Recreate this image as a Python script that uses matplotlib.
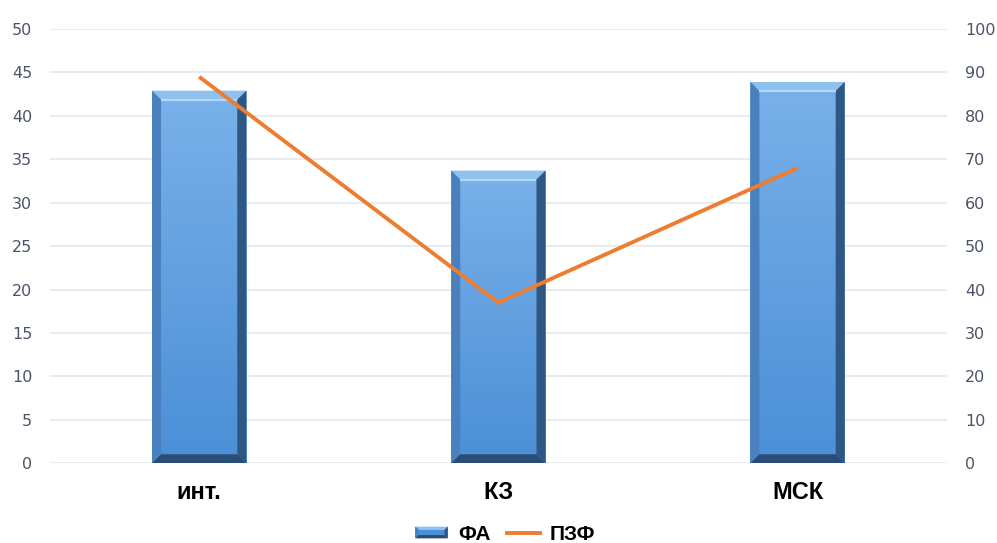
import numpy as np
import matplotlib
matplotlib.use("Agg")
import matplotlib.pyplot as plt
from matplotlib.patches import Polygon, Rectangle
from matplotlib.lines import Line2D
from matplotlib.legend_handler import HandlerBase
from matplotlib.colors import LinearSegmentedColormap

plt.rcParams['font.family'] = ['Liberation Sans', 'DejaVu Sans']

categories = ["инт.", "КЗ", "МСК"]
fa_values = [42.9, 33.7, 43.9]
pzf_values = [89, 37, 68]
left_ticks = [0, 5, 10, 15, 20, 25, 30, 35, 40, 45, 50]
right_ticks = [0, 10, 20, 30, 40, 50, 60, 70, 80, 90, 100]

FACE_TOP = "#7ab1e9"
FACE_BOT = "#4b8fd7"
BEVEL_TOP = "#8fc1f0"
HILITE = "#b0d8fc"
BEVEL_LEFT = "#4a80bd"
BEVEL_RIGHT = "#2f5784"
BEVEL_BOT = "#2a4d75"
LINE_COLOR = "#ed7d31"
TICK_COLOR = "#4a5468"
GRID_COLOR = "#e4e8ee"

face_cmap = LinearSegmentedColormap.from_list("face", [FACE_BOT, FACE_TOP])

fig = plt.figure(figsize=(9.97, 5.43), dpi=100)
ax = fig.add_axes([0.0497, 0.1468, 0.9003, 0.7998])
ax2 = ax.twinx()

x = np.arange(len(categories))
width = 0.315
ax.set_xlim(-0.5, len(categories) - 0.5)
ax.set_ylim(0, 50)
ax2.set_ylim(0, 100)

# bevel size expressed in pixels, converted to data units
fig.canvas.draw()
bbox = ax.get_window_extent()
bevel_px = 9
bx = bevel_px * (len(categories)) / bbox.width
by = bevel_px * 50 / bbox.height

bars = ax.bar(x, fa_values, width=width, color="none", edgecolor="none", zorder=2)
grad = np.linspace(0, 1, 256).reshape(-1, 1)
for rect in bars:
    x0 = rect.get_x()
    w = rect.get_width()
    h = rect.get_height()
    x1 = x0 + w
    im = ax.imshow(grad, cmap=face_cmap, origin="lower", aspect="auto",
                   extent=(x0, x1, 0, h), zorder=2, interpolation="bilinear")
    im.set_clip_path(rect)
    # bevel faces
    ax.add_patch(Polygon([(x0, h), (x1, h), (x1 - bx, h - by), (x0 + bx, h - by)],
                         closed=True, fc=BEVEL_TOP, ec="none", zorder=3))
    ax.add_patch(Polygon([(x0, 0), (x0, h), (x0 + bx, h - by), (x0 + bx, by)],
                         closed=True, fc=BEVEL_LEFT, ec="none", zorder=3))
    ax.add_patch(Polygon([(x1, 0), (x1, h), (x1 - bx, h - by), (x1 - bx, by)],
                         closed=True, fc=BEVEL_RIGHT, ec="none", zorder=3))
    ax.add_patch(Polygon([(x0, 0), (x1, 0), (x1 - bx, by), (x0 + bx, by)],
                         closed=True, fc=BEVEL_BOT, ec="none", zorder=3))
    ax.plot([x0 + bx, x1 - bx], [h - by, h - by], color=HILITE, lw=1.6,
            solid_capstyle="butt", zorder=4)

ax.set_xlim(-0.5, len(categories) - 0.5)
ax.set_ylim(0, 50)

ax2.plot(x, pzf_values, color=LINE_COLOR, lw=2.8, zorder=5,
         solid_joinstyle="miter", solid_capstyle="butt")

ax.set_yticks(left_ticks)
ax2.set_yticks(right_ticks)
ax.set_xticks(x)
ax.set_xticklabels(categories, fontsize=17, fontweight="bold", color="black")
for a in (ax, ax2):
    for lbl in a.get_yticklabels():
        lbl.set_family("DejaVu Sans")
ax.yaxis.grid(True, color=GRID_COLOR, lw=1.2)
ax.set_axisbelow(True)
for a in (ax, ax2):
    for s in a.spines.values():
        s.set_visible(False)
ax.tick_params(axis="y", length=0, pad=12.5, labelsize=11.5, labelcolor=TICK_COLOR)
ax2.tick_params(axis="y", length=0, pad=13, labelsize=11.5, labelcolor=TICK_COLOR)
ax.tick_params(axis="x", length=0, pad=13)


class BevelHandler(HandlerBase):
    def create_artists(self, legend, orig_handle, xdescent, ydescent,
                       width, height, fontsize, trans):
        x0, y0 = -xdescent, -ydescent
        w, h = width, height * 0.8
        y0 = y0 + (height - h) / 2
        b = h * 0.28
        arts = [
            Rectangle((x0, y0), w, h, fc=FACE_BOT, ec="none"),
            Polygon([(x0, y0 + h), (x0 + w, y0 + h), (x0 + w - b, y0 + h - b), (x0 + b, y0 + h - b)], fc=BEVEL_TOP, ec="none"),
            Polygon([(x0, y0), (x0, y0 + h), (x0 + b, y0 + h - b), (x0 + b, y0 + b)], fc=BEVEL_LEFT, ec="none"),
            Polygon([(x0 + w, y0), (x0 + w, y0 + h), (x0 + w - b, y0 + h - b), (x0 + w - b, y0 + b)], fc=BEVEL_RIGHT, ec="none"),
            Polygon([(x0, y0), (x0 + w, y0), (x0 + w - b, y0 + b), (x0 + b, y0 + b)], fc=BEVEL_BOT, ec="none"),
        ]
        for a in arts:
            a.set_transform(trans)
        return arts


bar_handle = Rectangle((0, 0), 1, 1)
line_handle = Line2D([], [], color=LINE_COLOR, lw=2.8)
fig.legend([bar_handle, line_handle], ["ФА", "ПЗФ"], loc="center",
           bbox_to_anchor=(0.507, 0.016), ncol=2, frameon=False,
           handler_map={Rectangle: BevelHandler()},
           prop={"weight": "bold", "size": 15}, handlelength=1.55,
           handletextpad=0.5, columnspacing=0.8, borderpad=0.0)

fig.savefig("out.png", dpi=100)
